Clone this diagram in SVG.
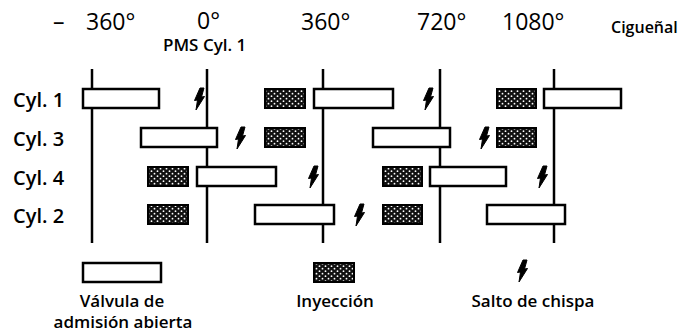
<svg xmlns="http://www.w3.org/2000/svg" xmlns:xlink="http://www.w3.org/1999/xlink" width="688" height="333" viewBox="0 0 688 333">
<style>
text{font-family:"Open Sans","DejaVu Sans",sans-serif;fill:#000}
.deg{font-size:23px}
.pms{font-size:17px;font-weight:600}
.cyl{font-size:20px;font-weight:600}
.leg{font-size:17px;font-weight:600}
.valve{fill:#fff;stroke:#000;stroke-width:2.5}
.inj{fill:url(#dots);stroke:#000;stroke-width:2}
.axis{stroke:#000;stroke-width:2.5;fill:none}
</style>
<defs>
<pattern id="dots" width="6" height="5" patternUnits="userSpaceOnUse">
<rect width="6" height="5" fill="#111"/>
<circle cx="1.5" cy="1.2" r="0.9" fill="#fff"/>
<circle cx="4.5" cy="3.7" r="0.9" fill="#fff"/>
</pattern>
<path id="spark" d="M1,-11 L5,-11 L2.5,-2 L5.5,-2.5 L-3,11 L-1.5,1 L-4.5,1.5 Z" fill="#000" stroke="#000" stroke-width="1" stroke-linejoin="round"/>
</defs>
<rect width="688" height="333" fill="#fff"/>
<g id="header">
<text class="deg" x="53" y="30">–</text>
<text class="deg" x="86" y="30">360°</text>
<text class="deg" x="197" y="29">0°</text>
<text class="pms" x="163" y="51">PMS Cyl. 1</text>
<text class="deg" x="301" y="30">360°</text>
<text class="deg" x="417" y="30">720°</text>
<text class="deg" x="502" y="30">1080°</text>
<text x="611" y="33" style="font-size:16px;font-weight:600">Cigueñal</text>
</g>
<g id="connectors">
<line class="axis" x1="92" y1="69" x2="92" y2="243"/>
<line class="axis" x1="207" y1="69" x2="207" y2="243"/>
<line class="axis" x1="323" y1="69" x2="323" y2="243"/>
<line class="axis" x1="440" y1="69" x2="440" y2="243"/>
<line class="axis" x1="554" y1="69" x2="554" y2="243"/>
</g>
<g id="cyl1">
<text class="cyl" x="13" y="107">Cyl. 1</text>
<rect class="valve" x="83" y="89" width="76" height="19"/>
<use xlink:href="#spark" x="199" y="99"/>
<rect class="inj" x="265" y="89" width="40" height="19"/>
<rect class="valve" x="314" y="89" width="79" height="19"/>
<use xlink:href="#spark" x="428" y="99"/>
<rect class="inj" x="497" y="89" width="39" height="19"/>
<rect class="valve" x="544" y="89" width="77" height="19"/>
</g>
<g id="cyl3">
<text class="cyl" x="13" y="146">Cyl. 3</text>
<rect class="valve" x="141" y="128" width="76" height="19"/>
<use xlink:href="#spark" x="240" y="138"/>
<rect class="inj" x="265" y="128" width="40" height="19"/>
<rect class="valve" x="373" y="128" width="77" height="19"/>
<use xlink:href="#spark" x="484" y="138"/>
<rect class="inj" x="497" y="128" width="39" height="19"/>
</g>
<g id="cyl4">
<text class="cyl" x="13" y="185">Cyl. 4</text>
<rect class="inj" x="148" y="167" width="40" height="19"/>
<rect class="valve" x="197" y="167" width="79" height="19"/>
<use xlink:href="#spark" x="313" y="177"/>
<rect class="inj" x="383" y="167" width="39" height="19"/>
<rect class="valve" x="430" y="167" width="76" height="19"/>
<use xlink:href="#spark" x="542" y="177"/>
</g>
<g id="cyl2">
<text class="cyl" x="13" y="223">Cyl. 2</text>
<rect class="inj" x="148" y="205" width="40" height="19"/>
<rect class="valve" x="255" y="205" width="79" height="19"/>
<use xlink:href="#spark" x="359" y="215"/>
<rect class="inj" x="383" y="205" width="39" height="19"/>
<rect class="valve" x="487" y="205" width="78" height="19"/>
</g>
<g id="legend-valve">
<rect class="valve" x="83" y="263" width="78" height="19"/>
<text class="leg" x="122" y="307" text-anchor="middle">Válvula de</text>
<text class="leg" x="123" y="328" text-anchor="middle">admisión abierta</text>
</g>
<g id="legend-injection">
<rect class="inj" x="314" y="263" width="40" height="19"/>
<text class="leg" x="335" y="307" text-anchor="middle">Inyección</text>
</g>
<g id="legend-spark">
<use xlink:href="#spark" x="522" y="271"/>
<text class="leg" x="533" y="307" text-anchor="middle">Salto de chispa</text>
</g>
</svg>
